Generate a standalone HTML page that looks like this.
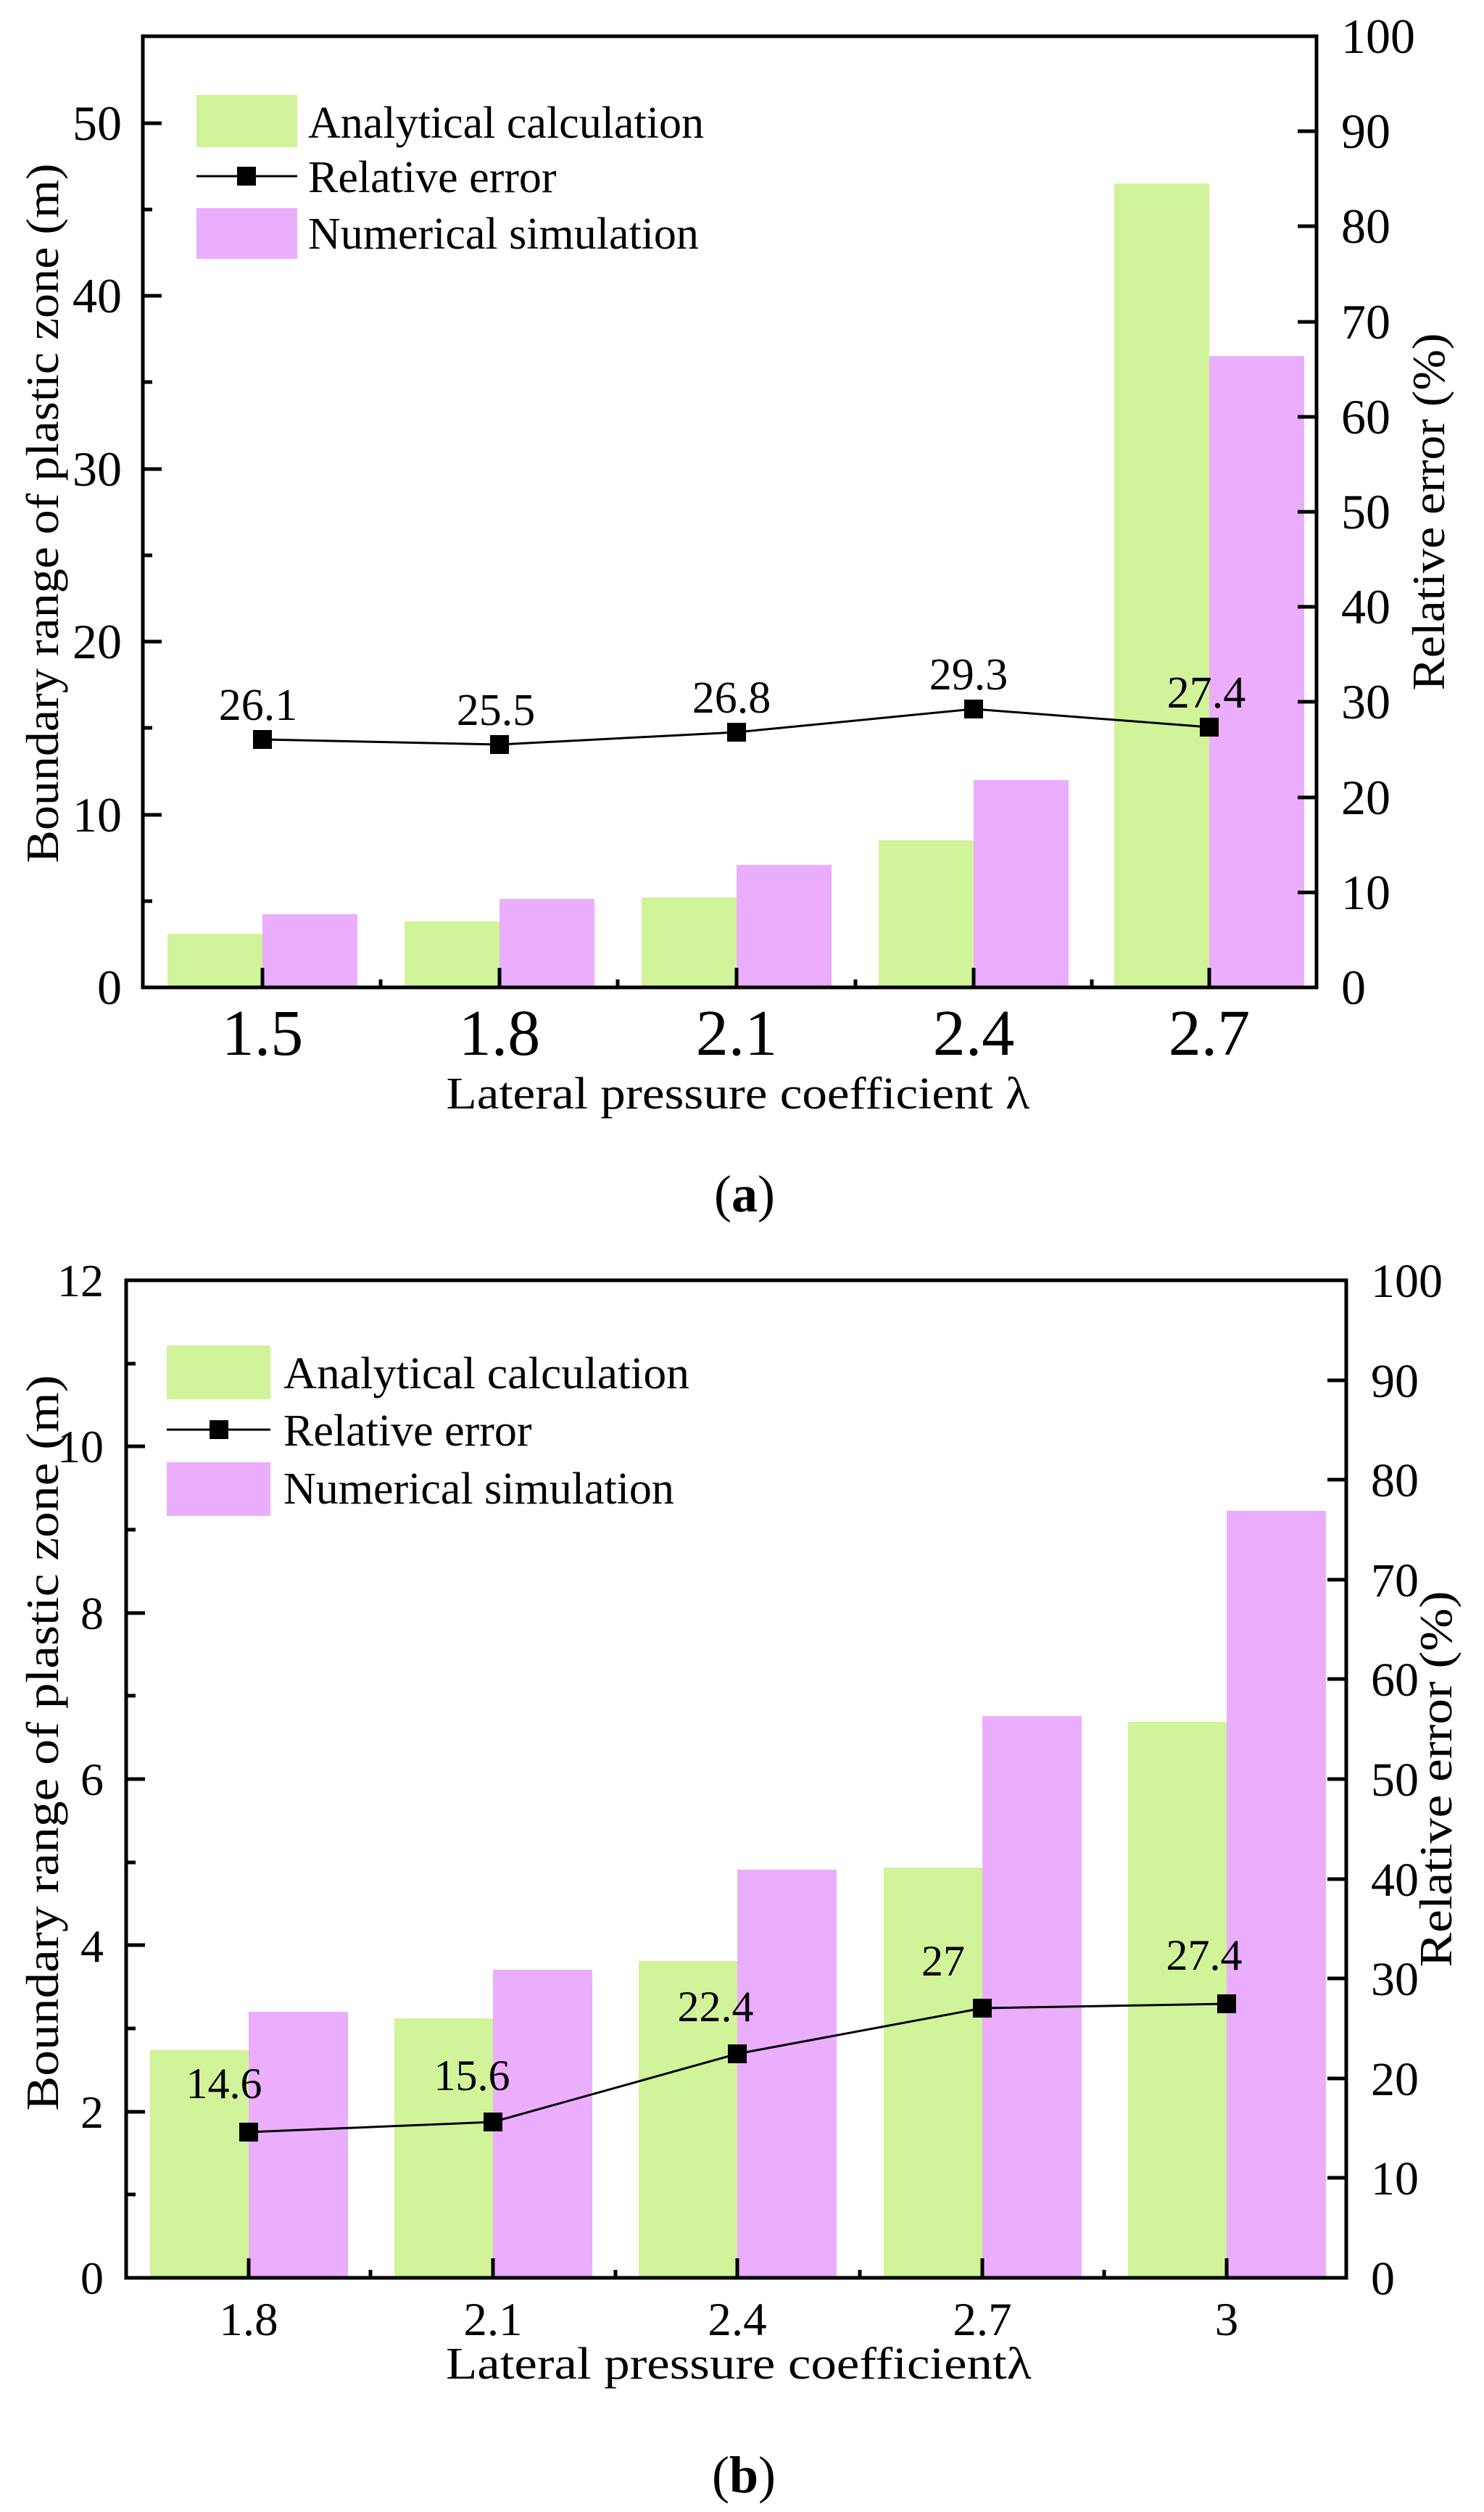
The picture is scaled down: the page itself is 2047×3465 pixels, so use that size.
<!DOCTYPE html>
<html><head><meta charset="utf-8"><style>html,body{margin:0;padding:0;background:#fff}svg{display:block}</style></head>
<body>
<svg width="2047" height="3465" viewBox="0 0 2047 3465" xmlns="http://www.w3.org/2000/svg" font-family="Liberation Serif, serif" fill="#000">
<rect width="2047" height="3465" fill="#fff"/>
<!-- ===== Chart (a) ===== -->
<g>
<g fill="#D1F39A">
<rect x="231" y="1288" width="131" height="74"/>
<rect x="558" y="1271" width="131" height="91"/>
<rect x="885" y="1238" width="131" height="124"/>
<rect x="1212" y="1159" width="131" height="203"/>
<rect x="1537" y="253" width="131" height="1109"/>
</g>
<g fill="#EBADFD">
<rect x="362" y="1261" width="131" height="101"/>
<rect x="689" y="1240" width="131" height="122"/>
<rect x="1016" y="1193" width="131" height="169"/>
<rect x="1343" y="1076" width="131" height="286"/>
<rect x="1668" y="491" width="131" height="871"/>
</g>
<rect x="197" y="50" width="1619" height="1312" fill="none" stroke="#000" stroke-width="5"/>
<g stroke="#000" stroke-width="5">
<line x1="197" y1="1243" x2="210" y2="1243"/><line x1="197" y1="1124" x2="223" y2="1124"/>
<line x1="197" y1="1004" x2="210" y2="1004"/><line x1="197" y1="885" x2="223" y2="885"/>
<line x1="197" y1="766" x2="210" y2="766"/><line x1="197" y1="647" x2="223" y2="647"/>
<line x1="197" y1="527" x2="210" y2="527"/><line x1="197" y1="408" x2="223" y2="408"/>
<line x1="197" y1="289" x2="210" y2="289"/><line x1="197" y1="170" x2="223" y2="170"/>
<line x1="1816" y1="1231" x2="1790" y2="1231"/><line x1="1816" y1="1100" x2="1790" y2="1100"/>
<line x1="1816" y1="968" x2="1790" y2="968"/><line x1="1816" y1="837" x2="1790" y2="837"/>
<line x1="1816" y1="706" x2="1790" y2="706"/><line x1="1816" y1="575" x2="1790" y2="575"/>
<line x1="1816" y1="444" x2="1790" y2="444"/><line x1="1816" y1="312" x2="1790" y2="312"/>
<line x1="1816" y1="181" x2="1790" y2="181"/>
<line x1="362" y1="1362" x2="362" y2="1335"/><line x1="689" y1="1362" x2="689" y2="1335"/>
<line x1="1016" y1="1362" x2="1016" y2="1335"/><line x1="1343" y1="1362" x2="1343" y2="1335"/>
<line x1="1668" y1="1362" x2="1668" y2="1335"/>
<line x1="525" y1="1362" x2="525" y2="1351"/><line x1="852" y1="1362" x2="852" y2="1351"/>
<line x1="1180" y1="1362" x2="1180" y2="1351"/><line x1="1506" y1="1362" x2="1506" y2="1351"/>
</g>
<g font-size="68" text-anchor="end">
<text x="168" y="1385">0</text><text x="168" y="1147">10</text><text x="168" y="908">20</text>
<text x="168" y="670">30</text><text x="168" y="431">40</text><text x="168" y="193">50</text>
</g>
<g font-size="68" text-anchor="start">
<text x="1850" y="1385">0</text><text x="1850" y="1254">10</text><text x="1850" y="1123">20</text>
<text x="1850" y="991">30</text><text x="1850" y="860">40</text><text x="1850" y="729">50</text>
<text x="1850" y="598">60</text><text x="1850" y="467">70</text><text x="1850" y="335">80</text>
<text x="1850" y="204">90</text><text x="1850" y="73">100</text>
</g>
<g font-size="90" text-anchor="middle">
<text x="362" y="1455">1.5</text><text x="689" y="1455">1.8</text><text x="1016" y="1455">2.1</text>
<text x="1343" y="1455">2.4</text><text x="1668" y="1455">2.7</text>
</g>
<polyline points="362,1020 689,1027 1016,1010 1343,978 1668,1003" fill="none" stroke="#000" stroke-width="3"/>
<g>
<rect x="349" y="1007" width="26" height="26"/><rect x="676" y="1014" width="26" height="26"/>
<rect x="1003" y="997" width="26" height="26"/><rect x="1330" y="965" width="26" height="26"/>
<rect x="1655" y="990" width="26" height="26"/>
</g>
<g font-size="62" text-anchor="middle">
<text x="356" y="993">26.1</text><text x="684" y="1000">25.5</text><text x="1009" y="983">26.8</text>
<text x="1336" y="951">29.3</text><text x="1664" y="976">27.4</text>
</g>
<rect x="271" y="131" width="139" height="72" fill="#D1F39A"/>
<line x1="271" y1="243" x2="410" y2="243" stroke="#000" stroke-width="3"/>
<rect x="327" y="230" width="26" height="26"/>
<rect x="271" y="287" width="139" height="70" fill="#EBADFD"/>
<g font-size="62">
<text x="425" y="190" textLength="546" lengthAdjust="spacingAndGlyphs">Analytical calculation</text>
<text x="425" y="265">Relative error</text>
<text x="425" y="343">Numerical simulation</text>
</g>
<text x="1018" y="1529" font-size="62" text-anchor="middle" textLength="805" lengthAdjust="spacingAndGlyphs">Lateral pressure coefficient λ</text>
<text transform="translate(80,708) rotate(-90)" font-size="63" text-anchor="middle" textLength="965" lengthAdjust="spacingAndGlyphs">Boundary range of plastic zone (m)</text>
<text transform="translate(1992,706) rotate(-90)" font-size="63" text-anchor="middle" textLength="493" lengthAdjust="spacingAndGlyphs">Relative error (%)</text>
<text x="1027" y="1671" font-size="72" text-anchor="middle">(<tspan font-weight="bold">a</tspan>)</text>
</g>
<!-- ===== Chart (b) ===== -->
<g>
<g fill="#D1F39A">
<rect x="207" y="2828" width="136" height="316"/>
<rect x="544" y="2784" width="136" height="360"/>
<rect x="881" y="2705" width="136" height="439"/>
<rect x="1219" y="2576" width="136" height="568"/>
<rect x="1556" y="2375" width="136" height="769"/>
</g>
<g fill="#EBADFD">
<rect x="343" y="2775" width="137" height="369"/>
<rect x="680" y="2717" width="137" height="427"/>
<rect x="1017" y="2579" width="137" height="565"/>
<rect x="1355" y="2367" width="137" height="777"/>
<rect x="1692" y="2084" width="137" height="1060"/>
</g>
<rect x="174" y="1766" width="1683" height="1376" fill="none" stroke="#000" stroke-width="5"/>
<g stroke="#000" stroke-width="5">
<line x1="174" y1="3027" x2="187" y2="3027"/><line x1="174" y1="2913" x2="200" y2="2913"/>
<line x1="174" y1="2798" x2="187" y2="2798"/><line x1="174" y1="2683" x2="200" y2="2683"/>
<line x1="174" y1="2569" x2="187" y2="2569"/><line x1="174" y1="2454" x2="200" y2="2454"/>
<line x1="174" y1="2339" x2="187" y2="2339"/><line x1="174" y1="2225" x2="200" y2="2225"/>
<line x1="174" y1="2110" x2="187" y2="2110"/><line x1="174" y1="1995" x2="200" y2="1995"/>
<line x1="174" y1="1881" x2="187" y2="1881"/>
<line x1="1857" y1="3004" x2="1831" y2="3004"/><line x1="1857" y1="2867" x2="1831" y2="2867"/>
<line x1="1857" y1="2729" x2="1831" y2="2729"/><line x1="1857" y1="2592" x2="1831" y2="2592"/>
<line x1="1857" y1="2454" x2="1831" y2="2454"/><line x1="1857" y1="2316" x2="1831" y2="2316"/>
<line x1="1857" y1="2179" x2="1831" y2="2179"/><line x1="1857" y1="2041" x2="1831" y2="2041"/>
<line x1="1857" y1="1904" x2="1831" y2="1904"/>
<line x1="343" y1="3142" x2="343" y2="3115"/><line x1="680" y1="3142" x2="680" y2="3115"/>
<line x1="1017" y1="3142" x2="1017" y2="3115"/><line x1="1355" y1="3142" x2="1355" y2="3115"/>
<line x1="1692" y1="3142" x2="1692" y2="3115"/>
<line x1="511" y1="3142" x2="511" y2="3131"/><line x1="849" y1="3142" x2="849" y2="3131"/>
<line x1="1186" y1="3142" x2="1186" y2="3131"/><line x1="1523" y1="3142" x2="1523" y2="3131"/>
</g>
<g font-size="64" text-anchor="end">
<text x="143" y="3164">0</text><text x="143" y="2935">2</text><text x="143" y="2706">4</text>
<text x="143" y="2476">6</text><text x="143" y="2247">8</text><text x="143" y="2017">10</text>
<text x="143" y="1788">12</text>
</g>
<g font-size="66" text-anchor="start">
<text x="1891" y="3165">0</text><text x="1891" y="3027">10</text><text x="1891" y="2890">20</text>
<text x="1891" y="2752">30</text><text x="1891" y="2615">40</text><text x="1891" y="2477">50</text>
<text x="1891" y="2339">60</text><text x="1891" y="2202">70</text><text x="1891" y="2064">80</text>
<text x="1891" y="1927">90</text><text x="1891" y="1789">100</text>
</g>
<g font-size="65" text-anchor="middle">
<text x="343" y="3221">1.8</text><text x="680" y="3221">2.1</text><text x="1017" y="3221">2.4</text>
<text x="1355" y="3221">2.7</text><text x="1692" y="3221">3</text>
</g>
<polyline points="343,2941 680,2927 1017,2833 1355,2770 1692,2764" fill="none" stroke="#000" stroke-width="3"/>
<g>
<rect x="330" y="2928" width="26" height="26"/><rect x="667" y="2914" width="26" height="26"/>
<rect x="1004" y="2820" width="26" height="26"/><rect x="1342" y="2757" width="26" height="26"/>
<rect x="1679" y="2751" width="26" height="26"/>
</g>
<g font-size="60" text-anchor="middle">
<text x="309" y="2894">14.6</text><text x="651" y="2883">15.6</text><text x="987" y="2788">22.4</text>
<text x="1301" y="2725">27</text><text x="1661" y="2717">27.4</text>
</g>
<rect x="230" y="1856" width="143" height="74" fill="#D1F39A"/>
<line x1="230" y1="1972" x2="373" y2="1972" stroke="#000" stroke-width="3"/>
<rect x="289" y="1959" width="26" height="26"/>
<rect x="230" y="2017" width="143" height="74" fill="#EBADFD"/>
<g font-size="62">
<text x="391" y="1915" textLength="560" lengthAdjust="spacingAndGlyphs">Analytical calculation</text>
<text x="391" y="1994">Relative error</text>
<text x="391" y="2074">Numerical simulation</text>
</g>
<text x="1019" y="3281" font-size="62" text-anchor="middle" textLength="808" lengthAdjust="spacingAndGlyphs">Lateral pressure coefficientλ</text>
<text transform="translate(80,2404) rotate(-90)" font-size="64" text-anchor="middle" textLength="1015" lengthAdjust="spacingAndGlyphs">Boundary range of plastic zone (m)</text>
<text transform="translate(2002,2454) rotate(-90)" font-size="64" text-anchor="middle" textLength="519" lengthAdjust="spacingAndGlyphs">Relative error (%)</text>
<text x="1026" y="3438" font-size="72" text-anchor="middle">(<tspan font-weight="bold">b</tspan>)</text>
</g>
</svg>
</body></html>
